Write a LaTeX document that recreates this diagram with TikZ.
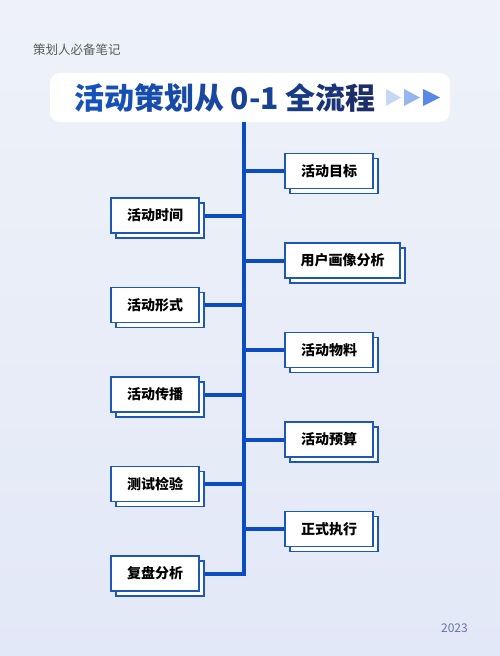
\documentclass[tikz,border=0pt]{standalone}
\usepackage{fontspec}
\setmainfont{Noto Sans CJK SC}
\usetikzlibrary{shadows,calc}
\definecolor{bgtop}{HTML}{EEF2F8}
\definecolor{bgbot}{HTML}{E3E8F8}
\definecolor{tA}{HTML}{1553BA}
\definecolor{tB}{HTML}{1B2E68}
\definecolor{spineblue}{HTML}{0B4CC2}
\definecolor{boxblue}{HTML}{1D58B8}
\definecolor{subgray}{HTML}{555A66}
\definecolor{yeargray}{HTML}{6A74A0}
\definecolor{triA}{HTML}{C6D6F5}
\definecolor{triB}{HTML}{97B4F0}
\definecolor{triC}{HTML}{5A88E6}
\tikzset{
  stepbox/.style={draw=boxblue, fill=white, line width=1.3pt, minimum height=35pt,
    inner sep=0pt, font=\fontsize{14}{16}\selectfont\bfseries, text=black,
    copy shadow={shadow xshift=5pt, shadow yshift=-5pt}},
  conn/.style={draw=spineblue, line width=4pt},
}
\begin{document}
\begin{tikzpicture}[x=1pt,y=-1pt]
\useasboundingbox (0,0) rectangle (500,656);
\shade[top color=bgtop, bottom color=bgbot] (0,0) rectangle (500,656);
\node[anchor=west, text=subgray, font=\fontsize{12.5}{14}\selectfont, inner sep=0pt] (sub) at (33,50) {策划人必备笔记};
\node[fill=white, rounded corners=10pt, minimum width=400pt, minimum height=49pt, inner sep=0pt] (titlebox) at (250,97.5) {};
\node[font=\fontsize{30}{32}\selectfont\bfseries, inner sep=0pt] (title) at (225,98) {{\color{tA}活}{\color{tB!8!tA}动}{\color{tB!16!tA}策}{\color{tB!24!tA}划}{\color{tB!32!tA}从} {\color{tB!45!tA}0-1} {\color{tB!65!tA}全}{\color{tB!82!tA}流}{\color{tB}程}};
\fill[triA] (386,89) -- (401,97.5) -- (386,106) -- cycle;
\fill[triB] (404,89) -- (420,97.5) -- (404,106) -- cycle;
\fill[triC] (423,89) -- (440,97.5) -- (423,106) -- cycle;
\coordinate (stop) at (244,122);
\coordinate (sbot) at (244,573.5);
% right boxes
\node[stepbox, minimum width=88pt] (r1) at (329,171) {活动目标};
\node[stepbox, minimum width=115pt] (r2) at (342.5,260.5) {用户画像分析};
\node[stepbox, minimum width=88pt] (r3) at (329,350) {活动物料};
\node[stepbox, minimum width=88pt] (r4) at (329,439.5) {活动预算};
\node[stepbox, minimum width=88pt] (r5) at (329,529) {正式执行};
% left boxes
\node[stepbox, minimum width=88pt] (l1) at (155,215.5) {活动时间};
\node[stepbox, minimum width=88pt] (l2) at (155,305) {活动形式};
\node[stepbox, minimum width=88pt] (l3) at (155,394.5) {活动传播};
\node[stepbox, minimum width=88pt] (l4) at (155,484) {测试检验};
\node[stepbox, minimum width=88pt] (l5) at (155,573.5) {复盘分析};
% spine
\draw[conn] (stop) -- ([yshift=-2pt]sbot);
\foreach \r in {r1,r2,r3,r4,r5} \draw[conn] (\r.west -| stop) -- (\r.west);
\foreach \l in {l1,l2,l3,l4,l5} \draw[conn] ([xshift=5pt]\l.east) -- (\l.east -| stop);
\node[anchor=east, text=yeargray, font=\fontsize{12}{14}\selectfont, inner sep=0pt] (year) at (468,628) {2023};
\end{tikzpicture}
\end{document}
